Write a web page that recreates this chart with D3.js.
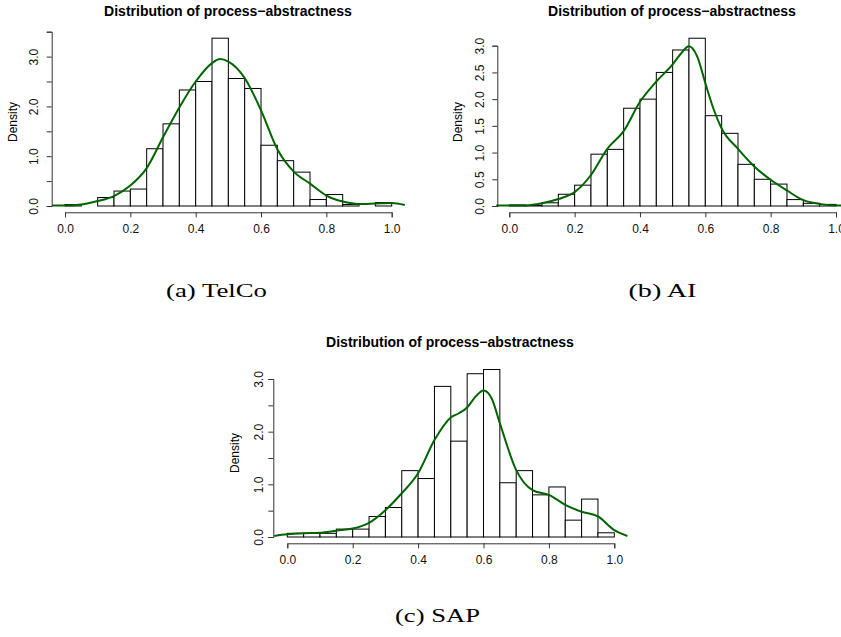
<!DOCTYPE html>
<html><head><meta charset="utf-8">
<script src="https://cdn.jsdelivr.net/npm/d3@7"></script>
<style>body{margin:0;background:#fff}svg{display:block;background:#fff}</style>
</head><body>
<svg id="chart" width="841" height="637"></svg>
<script>
// ---------- data ----------
const binEdges = [0,0.05,0.1,0.15,0.2,0.25,0.3,0.35,0.4,0.45,0.5,0.55,0.6,0.65,0.7,0.75,0.8,0.85,0.9,0.95,1.0];
const xTicks = [0,0.2,0.4,0.6,0.8,1.0];
const xTickLabels = ["0.0","0.2","0.4","0.6","0.8","1.0"];

const telcoHeights = [0.03,0,0.17,0.30,0.34,1.15,1.65,2.33,2.50,3.37,2.56,2.36,1.22,0.91,0.68,0.13,0.23,0.03,0,0.07];
const aiHeights    = [0.02,0.01,0.06,0.22,0.39,0.97,1.06,1.83,2.00,2.50,2.92,3.14,1.69,1.36,0.78,0.50,0.41,0.12,0.05,0.03];
const sapHeights   = [0.07,0.07,0.07,0.15,0.15,0.39,0.56,1.26,1.11,2.86,1.82,3.10,3.18,1.03,1.26,0.80,0.95,0.32,0.72,0.08];

const telcoDensX = [-0.04,0,0.05,0.1,0.15,0.2,0.25,0.3,0.35,0.4,0.45,0.475,0.5,0.55,0.6,0.65,0.7,0.75,0.8,0.85,0.9,0.95,1.0,1.04];
const telcoDensY = [0.01,0.01,0.03,0.10,0.20,0.41,0.76,1.38,1.98,2.50,2.87,2.95,2.90,2.57,1.92,1.14,0.69,0.45,0.21,0.09,0.04,0.05,0.06,0.02];

const aiDensX = [-0.04,0,0.05,0.1,0.15,0.2,0.25,0.3,0.35,0.4,0.45,0.5,0.525,0.55,0.575,0.6,0.625,0.65,0.7,0.75,0.8,0.85,0.9,0.95,1.0,1.04];
const aiDensY = [0.01,0.01,0.01,0.05,0.13,0.26,0.58,1.07,1.40,1.95,2.33,2.65,2.85,2.99,2.80,2.30,1.82,1.45,1.07,0.74,0.49,0.29,0.11,0.04,0.01,0.01];

const sapDensX = [-0.04,0,0.05,0.1,0.15,0.2,0.25,0.3,0.35,0.4,0.45,0.5,0.525,0.55,0.575,0.6,0.625,0.65,0.7,0.75,0.8,0.85,0.9,0.95,1.0,1.04];
const sapDensY = [0.02,0.05,0.07,0.08,0.12,0.16,0.27,0.51,0.83,1.21,1.84,2.27,2.35,2.46,2.66,2.78,2.63,2.16,1.27,0.89,0.80,0.61,0.48,0.39,0.13,0.02];

const telcoYTicks = [0,0.5,1,1.5,2,2.5,3,3.5];
const telcoYLabels = ["0.0","","1.0","","2.0","","3.0",""];
const aiYTicks = [0,0.5,1,1.5,2,2.5,3];
const aiYLabels = ["0.0","0.5","1.0","1.5","2.0","2.5","3.0"];
const sapYTicks = [0,0.5,1,1.5,2,2.5,3];
const sapYLabels = ["0.0","","1.0","","2.0","","3.0"];

const titleText = "Distribution of process\u2212abstractness";
const yLabelText = "Density";
const captions = ["(a) TelCo","(b) AI","(c) SAP"];

// ---------- layout ----------
const panels = [
  {heights: telcoHeights, dx: telcoDensX, dy: telcoDensY, yt: telcoYTicks, yl: telcoYLabels,
   x0: 65, x1: 391.7, yBase: 206, yTop: 31.7, yMax: 3.5, axisX: 51.7, xAxisY: 212.3,
   titleX: 228, titleY: 15.5, densLX: 13, densLY: 122, yLabOff: 18,
   cap: captions[0], capX: 216.5, capY: 297, capW: 101},
  {heights: aiHeights, dx: aiDensX, dy: aiDensY, yt: aiYTicks, yl: aiYLabels,
   x0: 509.3, x1: 836, yBase: 206, yTop: 45.7, yMax: 3.0, axisX: 497.3, xAxisY: 212.3,
   titleX: 672, titleY: 15.5, densLX: 458, densLY: 122, yLabOff: 17,
   cap: captions[1], capX: 662.5, capY: 297, capW: 68},
  {heights: sapHeights, dx: sapDensX, dy: sapDensY, yt: sapYTicks, yl: sapYLabels,
   x0: 287.3, x1: 614.3, yBase: 537, yTop: 379, yMax: 3.0, axisX: 273.3, xAxisY: 543.3,
   titleX: 450, titleY: 346.5, densLX: 235, densLY: 453, yLabOff: 14,
   cap: captions[2], capX: 437.5, capY: 622, capW: 85}
];

const svg = d3.select("#chart");
const sans = "'Liberation Sans', Arial, Helvetica, sans-serif";

panels.forEach(p => {
  const x = d3.scaleLinear().domain([0,1]).range([p.x0, p.x1]);
  const y = d3.scaleLinear().domain([0,p.yMax]).range([p.yBase, p.yTop]);
  const g = svg.append("g");

  // bars
  const bins = p.heights.map((h,i) => ({a: binEdges[i], b: binEdges[i+1], h}));
  g.selectAll("rect.bar").data(bins).enter().append("rect")
    .attr("class","bar")
    .attr("x", d => x(d.a))
    .attr("width", d => x(d.b) - x(d.a))
    .attr("y", d => y(d.h))
    .attr("height", d => Math.max(0, y(0) - y(d.h)))
    .attr("fill","#fff").attr("stroke","#000").attr("stroke-width",1);

  // density curve
  const pts = p.dx.map((v,i) => [v, p.dy[i]]);
  const line = d3.line().x(d => x(d[0])).y(d => y(d[1])).curve(d3.curveMonotoneX);
  g.append("path").attr("d", line(pts)).attr("fill","none")
    .attr("stroke","#006400").attr("stroke-width",2);

  // x axis
  const xa = d3.axisBottom(x).tickValues(xTicks).tickFormat((d,i) => xTickLabels[i])
    .tickSizeOuter(0).tickSize(5).tickPadding(4);
  const xg = g.append("g").attr("transform",`translate(0,${p.xAxisY})`).call(xa);
  xg.select(".domain").attr("stroke","#333");
  xg.selectAll(".tick line").attr("stroke","#333");
  xg.selectAll(".tick text").attr("font-family",sans).attr("font-size",12).attr("fill","#111")
    .attr("y", 17).attr("dy","0.35em");

  // y axis
  const ya = d3.axisLeft(y).tickValues(p.yt).tickFormat((d,i) => p.yl[i])
    .tickSizeOuter(0).tickSize(5);
  const yg = g.append("g").attr("transform",`translate(${p.axisX},0)`).call(ya);
  yg.select(".domain").attr("stroke","#333");
  yg.selectAll(".tick line").attr("stroke","#333");
  yg.selectAll(".tick text").attr("font-family",sans).attr("font-size",12).attr("fill","#111")
    .attr("x", null).attr("dy", null)
    .attr("text-anchor","middle").attr("dominant-baseline","central")
    .attr("transform", `translate(${-p.yLabOff},0) rotate(-90)`);

  // title
  g.append("text").attr("x", p.titleX).attr("y", p.titleY)
    .attr("text-anchor","middle").attr("font-family",sans).attr("font-weight","bold")
    .attr("font-size",14).attr("fill","#000").text(titleText);

  // y label
  g.append("text").attr("transform",`translate(${p.densLX},${p.densLY}) rotate(-90)`)
    .attr("text-anchor","middle").attr("dominant-baseline","central")
    .attr("font-family",sans).attr("font-size",12).attr("fill","#000").text(yLabelText);

  // caption
  svg.append("text").attr("x", p.capX - p.capW/2).attr("y", p.capY)
    .attr("font-family","'Liberation Serif', 'DejaVu Serif', serif").attr("font-size",19)
    .attr("textLength", p.capW).attr("lengthAdjust","spacingAndGlyphs")
    .attr("fill","#000").text(p.cap);
});
</script>
</body></html>
